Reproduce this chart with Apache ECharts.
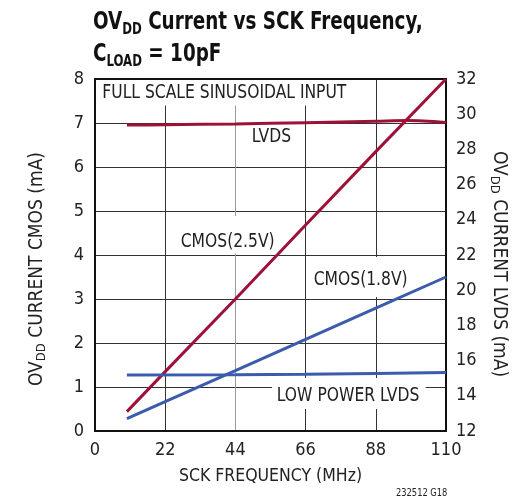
<!DOCTYPE html>
<html>
<head>
<meta charset="utf-8">
<script src="https://cdn.jsdelivr.net/npm/echarts@6/dist/echarts.min.js"></script>
<style>
html,body{margin:0;padding:0;background:#fff;}
#c{width:522px;height:502px;}
</style>
</head>
<body>
<div id="c"></div>
<script>
var FONT = "'Liberation Sans Narrow','DejaVu Sans Condensed','Liberation Sans',sans-serif";
var xTicks = [0, 22, 44, 66, 88, 110];
var leftTicks = [0, 1, 2, 3, 4, 5, 6, 7, 8];
var rightTicks = [12, 14, 16, 18, 20, 22, 24, 26, 28, 30, 32];

var cmos25X = [10, 22, 44, 66, 88, 110];
var cmos25Y = [0.44, 1.35, 3.0, 4.68, 6.35, 8.0];
var cmos18X = [10, 22, 44, 66, 88, 110];
var cmos18Y = [0.28, 0.67, 1.37, 2.08, 2.79, 3.5];
var lvdsX = [10, 22, 44, 66, 88, 98, 110];
var lvdsY = [29.38, 29.4, 29.45, 29.52, 29.6, 29.64, 29.53];
var lpLvdsX = [10, 44, 66, 88, 110];
var lpLvdsY = [15.18, 15.2, 15.22, 15.27, 15.33];

var RED = '#9e1239';
var BLUE = '#3b5bad';

function zip(a, b) { return a.map(function (v, i) { return [v, b[i]]; }); }

var chart = echarts.init(document.getElementById('c'), null, {renderer: 'canvas'});

var SX = 0.91;
function label(text, x, y, pad) {
  return {
    type: 'text', x: x, y: y, scaleX: SX, z: 3,
    style: {text: text, fontFamily: FONT, fontSize: 19, fill: '#222', backgroundColor: '#fff',
            align: 'left', verticalAlign: 'top', padding: pad}
  };
}

var nameRich = {
  n: {fontFamily: FONT, fontSize: 19, lineHeight: 22, color: '#222'},
  s: {fontFamily: FONT, fontSize: 13, lineHeight: 10, verticalAlign: 'bottom', color: '#222'}
};

chart.setOption({
  animation: false,
  backgroundColor: '#fff',
  grid: {left: 95, right: 76, top: 79, bottom: 71, show: true, borderColor: '#111', borderWidth: 2, backgroundColor: 'transparent', z: 5},
  xAxis: {
    type: 'value', min: 0, max: 110, interval: 22,
    name: 'SCK FREQUENCY (MHz)', nameLocation: 'middle', nameGap: 36,
    nameTextStyle: {fontFamily: FONT, fontSize: 17.5, color: '#222'},
    axisLine: {show: true, lineStyle: {color: '#111', width: 2}},
    axisTick: {show: false},
    axisLabel: {fontFamily: FONT, fontSize: 18, color: '#222', margin: 10},
    splitLine: {show: true, lineStyle: {color: ['#333', '#333', '#999', '#333', '#333', '#333'], width: 1}}
  },
  yAxis: [{
    type: 'value', min: 0, max: 8, interval: 1, position: 'left',
    name: '{n|OV}{s|DD}{n| CURRENT CMOS (mA)}', nameLocation: 'middle', nameGap: 47, nameRotate: 90,
    nameTextStyle: {rich: nameRich, padding: [0, 28, 0, 0]},
    axisLine: {show: true, lineStyle: {color: '#111', width: 2}},
    axisTick: {show: false},
    axisLabel: {fontFamily: FONT, fontSize: 18, color: '#222', margin: 11},
    splitLine: {show: true, lineStyle: {color: '#333', width: 1}}
  }, {
    type: 'value', min: 12, max: 32, interval: 2, position: 'right',
    name: '{n|OV}{s|DD}{n| CURRENT LVDS (mA)}', nameLocation: 'middle', nameGap: 40, nameRotate: -90,
    nameTextStyle: {rich: nameRich, padding: [0, 0, 0, 18]},
    axisLine: {show: true, lineStyle: {color: '#111', width: 2}},
    axisTick: {show: false},
    axisLabel: {fontFamily: FONT, fontSize: 18, color: '#222', margin: 10},
    splitLine: {show: false}
  }],
  series: [
    {name: 'CMOS(2.5V)', type: 'line', yAxisIndex: 0, data: zip(cmos25X, cmos25Y), showSymbol: false, lineStyle: {color: RED, width: 3}, z: 10},
    {name: 'CMOS(1.8V)', type: 'line', yAxisIndex: 0, data: zip(cmos18X, cmos18Y), showSymbol: false, lineStyle: {color: BLUE, width: 3}, z: 10},
    {name: 'LVDS', type: 'line', yAxisIndex: 1, data: zip(lvdsX, lvdsY), showSymbol: false, smooth: 0.3, lineStyle: {color: RED, width: 3}, z: 10},
    {name: 'LOW POWER LVDS', type: 'line', yAxisIndex: 1, data: zip(lpLvdsX, lpLvdsY), showSymbol: false, lineStyle: {color: BLUE, width: 3}, z: 10}
  ],
  graphic: [
    {
      type: 'text', x: 93, y: 6, scaleX: 0.816, z: 3,
      style: {
        text: '{n|OV}{s|DD}{n| Current vs SCK Frequency,}\n{n|C}{s|LOAD}{n| = 10pF}',
        align: 'left', verticalAlign: 'top',
        rich: {
          n: {fontFamily: FONT, fontWeight: 'bold', fontSize: 25, lineHeight: 32, fill: '#111'},
          s: {fontFamily: FONT, fontWeight: 'bold', fontSize: 16, lineHeight: 14, verticalAlign: 'bottom', fill: '#111'}
        }
      }
    },
    label('FULL SCALE SINUSOIDAL INPUT', 96, 80, [3.5, 6, 3, 7]),
    label('LVDS', 250, 127, [1, 2, 1, 2]),
    label('CMOS(2.5V)', 178, 216, [16.5, 3, 2, 3]),
    label('CMOS(1.8V)', 311, 257, [13.5, 3, 7.5, 3]),
    label('LOW POWER LVDS', 272, 378, [8.5, 7, 3.5, 5.3]),
    {type: 'text', x: 396, y: 488, scaleX: 0.84, z: 3, style: {text: '232512 G18', fontFamily: FONT, fontSize: 11, fill: '#222', align: 'left', verticalAlign: 'top'}}
  ]
});
</script>
</body>
</html>
